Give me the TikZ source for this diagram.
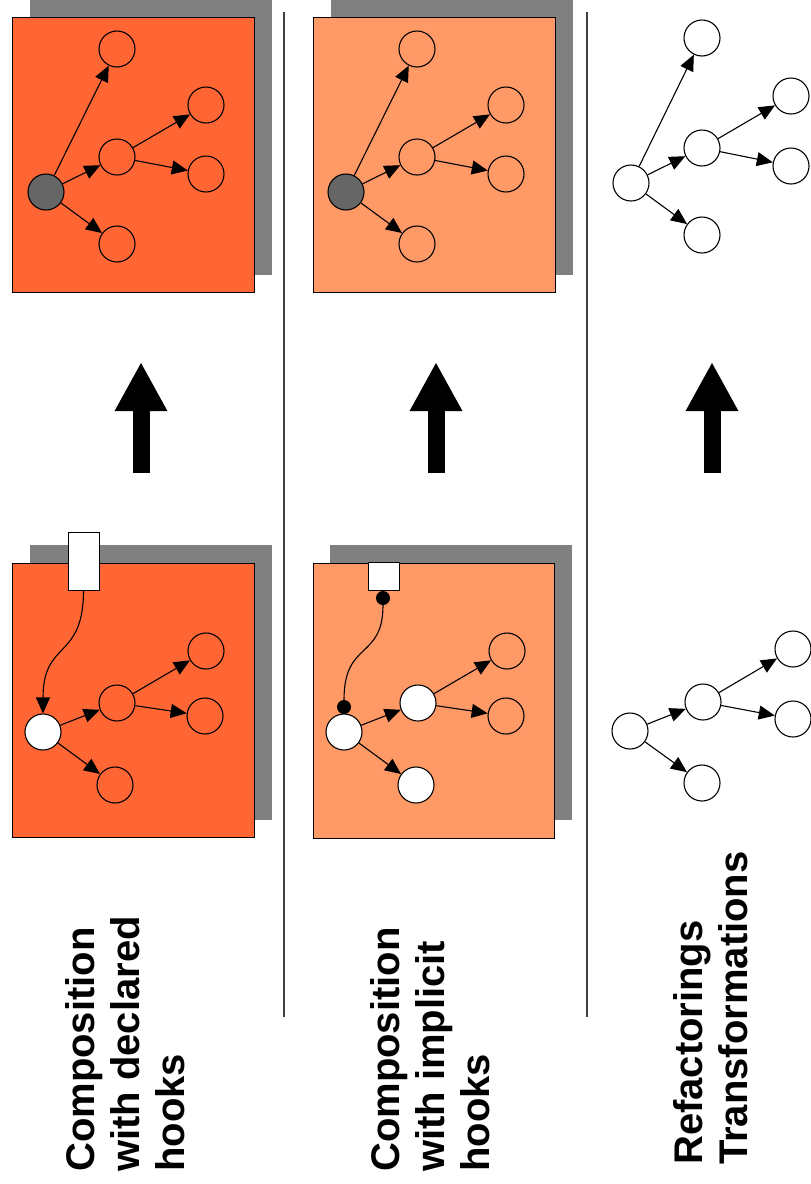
\documentclass[tikz,border=0pt]{standalone}
\usepackage{fontspec}
\setmainfont{Liberation Sans}
\usepackage{xcolor}
\usepackage{tikz}
\usetikzlibrary{arrows.meta}

\definecolor{hookorange}{HTML}{FF6633}
\definecolor{lightorange}{HTML}{FF9966}
\definecolor{shadowgray}{HTML}{808080}
\definecolor{rootgray}{HTML}{666666}
\definecolor{rulegray}{HTML}{404040}

\begin{document}
\begin{tikzpicture}[x=1pt, y=-1pt,
    vertex/.style={circle, draw, line width=1.1pt, minimum size=36pt, inner sep=0pt},
    edge/.style={line width=1.1pt, -{Triangle[length=16pt, width=14pt]}},
    hookbox/.style={draw, fill=white, line width=1pt, inner sep=0pt},
    hookdot/.style={circle, fill=black, minimum size=14pt, inner sep=0pt},
    bigarrow/.style={line width=17pt, -{Triangle[length=49pt, width=49pt]}},
    sepline/.style={draw=rulegray, line width=1.3pt},
    caption/.style={rotate=90, align=left, inner sep=0pt, anchor=north west,
      font=\bfseries\fontsize{40}{45}\selectfont}]
      \useasboundingbox (0,0) rectangle (811,1184);

      % panels with their shadows
      \fill[shadowgray] (30,-1) rectangle (272,275);
      \filldraw[fill=hookorange, line width=0.8pt] (12,17) rectangle (254,292);
      \fill[shadowgray] (30,545) rectangle (272,820);
      \filldraw[fill=hookorange, line width=0.8pt] (12,563) rectangle (254,837);
      \fill[shadowgray] (331,-1) rectangle (573,275);
      \filldraw[fill=lightorange, line width=0.8pt] (313,17) rectangle (555,292);
      \fill[shadowgray] (330,545) rectangle (572,820);
      \filldraw[fill=lightorange, line width=0.8pt] (313,563) rectangle (554,838);

      % separators
      \coordinate (s1t) at (284,12);
      \coordinate (s1b) at (284,1017);
      \coordinate (s2t) at (587,12);
      \coordinate (s2b) at (587,1017);
      \draw[sepline] (s1t) -- (s1b);
      \draw[sepline] (s2t) -- (s2b);

      % declared hooks
      \begin{scope}[shift={(46,192)}, name prefix=decl-]
      \node[vertex, fill=rootgray] (root) at (0,0) {};
      \node[vertex] (top) at (71,-143) {};
      \node[vertex] (mid) at (71,-35) {};
      \node[vertex] (up) at (160,-87) {};
      \node[vertex] (down) at (160,-18) {};
      \node[vertex] (bottom) at (71,52) {};
      \draw[edge] (root) -- (top);
      \draw[edge] (root) -- (mid);
      \draw[edge] (root) -- (bottom);
      \draw[edge] (mid) -- (up);
      \draw[edge] (mid) -- (down);
      \end{scope}

      \begin{scope}[shift={(43,732)}, name prefix=declbase-]
      \node[vertex, fill=white] (root) at (0,0) {};
      \node[vertex] (mid) at (74,-29) {};
      \node[vertex] (up) at (163,-81) {};
      \node[vertex] (down) at (162,-16) {};
      \node[vertex] (bottom) at (72,53) {};
      \draw[edge] (root) -- (mid);
      \draw[edge] (root) -- (bottom);
      \draw[edge] (mid) -- (up);
      \draw[edge] (mid) -- (down);
      \end{scope}

      \node[hookbox, minimum width=31pt, minimum height=58pt] (hook) at (83.5,561) {};
      \draw[edge] (hook.south) .. controls +(0,70) and +(0,-74) .. (declbase-root.north);

      % implicit hooks
      \begin{scope}[shift={(346,192)}, name prefix=impl-]
      \node[vertex, fill=rootgray] (root) at (0,0) {};
      \node[vertex] (top) at (71,-143) {};
      \node[vertex] (mid) at (71,-35) {};
      \node[vertex] (up) at (160,-87) {};
      \node[vertex] (down) at (160,-18) {};
      \node[vertex] (bottom) at (71,52) {};
      \draw[edge] (root) -- (top);
      \draw[edge] (root) -- (mid);
      \draw[edge] (root) -- (bottom);
      \draw[edge] (mid) -- (up);
      \draw[edge] (mid) -- (down);
      \end{scope}

      \begin{scope}[shift={(344,732)}, name prefix=implbase-]
      \node[vertex, fill=white] (root) at (0,0) {};
      \node[vertex, fill=white] (mid) at (74,-29) {};
      \node[vertex] (up) at (163,-81) {};
      \node[vertex] (down) at (162,-16) {};
      \node[vertex, fill=white] (bottom) at (72,53) {};
      \draw[edge] (root) -- (mid);
      \draw[edge] (root) -- (bottom);
      \draw[edge] (mid) -- (up);
      \draw[edge] (mid) -- (down);
      \end{scope}

      \node[hookbox, minimum width=31pt, minimum height=28pt] (slot) at (383.5,576) {};
      \node[hookdot] (plug) at (383,598) {};
      \node[hookdot] (socket) at (344,707) {};
      \draw[line width=1.1pt] (plug) .. controls +(0,62) and +(0,-67) .. (socket);

      % refactorings
      \begin{scope}[shift={(631,183)}, name prefix=refac-]
      \node[vertex, fill=white] (root) at (0,0) {};
      \node[vertex, fill=white] (top) at (71,-145) {};
      \node[vertex, fill=white] (mid) at (71,-35) {};
      \node[vertex, fill=white] (up) at (160,-87) {};
      \node[vertex, fill=white] (down) at (160,-17) {};
      \node[vertex, fill=white] (bottom) at (71,52) {};
      \draw[edge] (root) -- (top);
      \draw[edge] (root) -- (mid);
      \draw[edge] (root) -- (bottom);
      \draw[edge] (mid) -- (up);
      \draw[edge] (mid) -- (down);
      \end{scope}

      \begin{scope}[shift={(630,731)}, name prefix=refacbase-]
      \node[vertex, fill=white] (root) at (0,0) {};
      \node[vertex, fill=white] (mid) at (73,-29) {};
      \node[vertex, fill=white] (up) at (163,-82) {};
      \node[vertex, fill=white] (down) at (163,-12) {};
      \node[vertex, fill=white] (bottom) at (72,52) {};
      \draw[edge] (root) -- (mid);
      \draw[edge] (root) -- (bottom);
      \draw[edge] (mid) -- (up);
      \draw[edge] (mid) -- (down);
      \end{scope}

      % big arrows between base and result
      \coordinate (a1s) at (141,473);
      \coordinate (a1e) at (141,362);
      \coordinate (a2s) at (436,473);
      \coordinate (a2e) at (436,362);
      \coordinate (a3s) at (712,473);
      \coordinate (a3e) at (712,362);
      \draw[bigarrow] (a1s) -- (a1e);
      \draw[bigarrow] (a2s) -- (a2e);
      \draw[bigarrow] (a3s) -- (a3e);

      % captions
      \node[caption] (cdecl) at (65,1172) {Composition\\with declared\\hooks};
      \node[caption] (cimpl) at (370,1172) {Composition\\with implicit\\hooks};
      \node[caption] (crefac) at (673,1165) {Refactorings\\Transformations};
    \end{tikzpicture}
\end{document}
